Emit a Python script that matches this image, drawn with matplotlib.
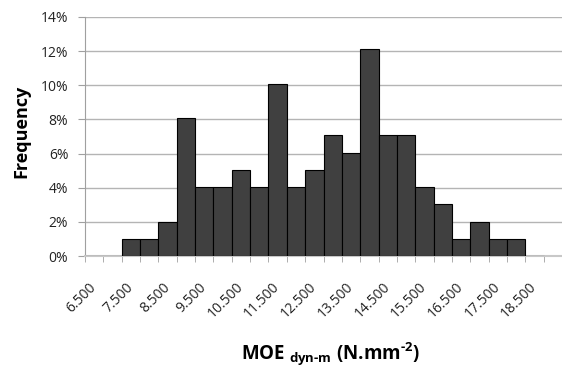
import numpy as np
import matplotlib
matplotlib.use('Agg')
from matplotlib import pyplot as plt
from matplotlib.transforms import ScaledTranslation

# categories every 500, labelled every second one
categories = ['6.500', '7.000', '7.500', '8.000', '8.500', '9.000', '9.500',
              '10.000', '10.500', '11.000', '11.500', '12.000', '12.500',
              '13.000', '13.500', '14.000', '14.500', '15.000', '15.500',
              '16.000', '16.500', '17.000', '17.500', '18.000', '18.500']
frequency = [0, 0, 1.01, 1.01, 2.02, 8.08, 4.04, 4.04, 5.05, 4.04, 10.10,
             4.04, 5.05, 7.07, 6.06, 12.12, 7.07, 7.07, 4.04, 3.03, 1.01,
             2.02, 1.01, 1.01, 0]
y_ticks = [0, 2, 4, 6, 8, 10, 12, 14]


def main():
    plt.rcParams['font.family'] = ['Open Sans', 'DejaVu Sans']
    plt.rcParams['mathtext.fontset'] = 'custom'
    plt.rcParams['mathtext.bf'] = 'Open Sans:bold'
    plt.rcParams['mathtext.rm'] = 'Open Sans:bold'

    fig = plt.figure(figsize=(5.62, 3.68), dpi=100)
    ax = fig.add_axes([85 / 562, 1 - 256 / 368, 1 - 85 / 562, (256 - 17) / 368])

    x = np.arange(len(categories))
    ax.bar(x, frequency, width=1.0, color='#404040', edgecolor='black',
           linewidth=0.8, zorder=3)

    ax.set_xlim(-0.5, 25.1)
    ax.set_ylim(0, 14)
    ax.set_yticks(y_ticks)
    ax.set_yticklabels([f'{v}%' for v in y_ticks], fontsize=10, color='#222222')
    ax.yaxis.grid(True, color='#b4b4b4', linewidth=1.0, zorder=0)

    # labels every second category, ticks on category boundaries
    ax.set_xticks(x[::2])
    ax.set_xticklabels(categories[::2], rotation=45, ha='right', va='center',
                       rotation_mode='anchor', fontsize=10, color='#222222')
    shift = ScaledTranslation(-11 / 100, 0, fig.dpi_scale_trans)
    for lab in ax.get_xticklabels():
        lab.set_transform(lab.get_transform() + shift)
    ax.set_xticks(np.arange(-0.5, 25.6, 1), minor=True)
    ax.tick_params(axis='x', which='major', length=0, pad=21)
    ax.tick_params(axis='x', which='minor', length=4, color='#a0a0a0')
    ax.tick_params(axis='y', length=5, color='#a0a0a0', pad=7)

    for side in ['top', 'right']:
        ax.spines[side].set_visible(False)
    ax.spines['left'].set_color('#a0a0a0')
    ax.spines['bottom'].set_color('#c8c8c8')
    ax.spines['bottom'].set_linewidth(1.5)

    fig.text(21 / 562, 1 - 131 / 368, 'Frequency', rotation=90, ha='center',
             va='center', fontsize=13, fontweight='bold')
    fig.text(330 / 562, 1 - 354 / 368,
             r'MOE $_{\mathbf{dyn{\text{-}}m}}$ (N.mm$^{\text{-}\mathbf{2}}$)',
             ha='center', va='center', fontsize=13.5, fontweight='bold')

    fig.savefig('out.png', dpi=100)


if __name__ == '__main__':
    main()
